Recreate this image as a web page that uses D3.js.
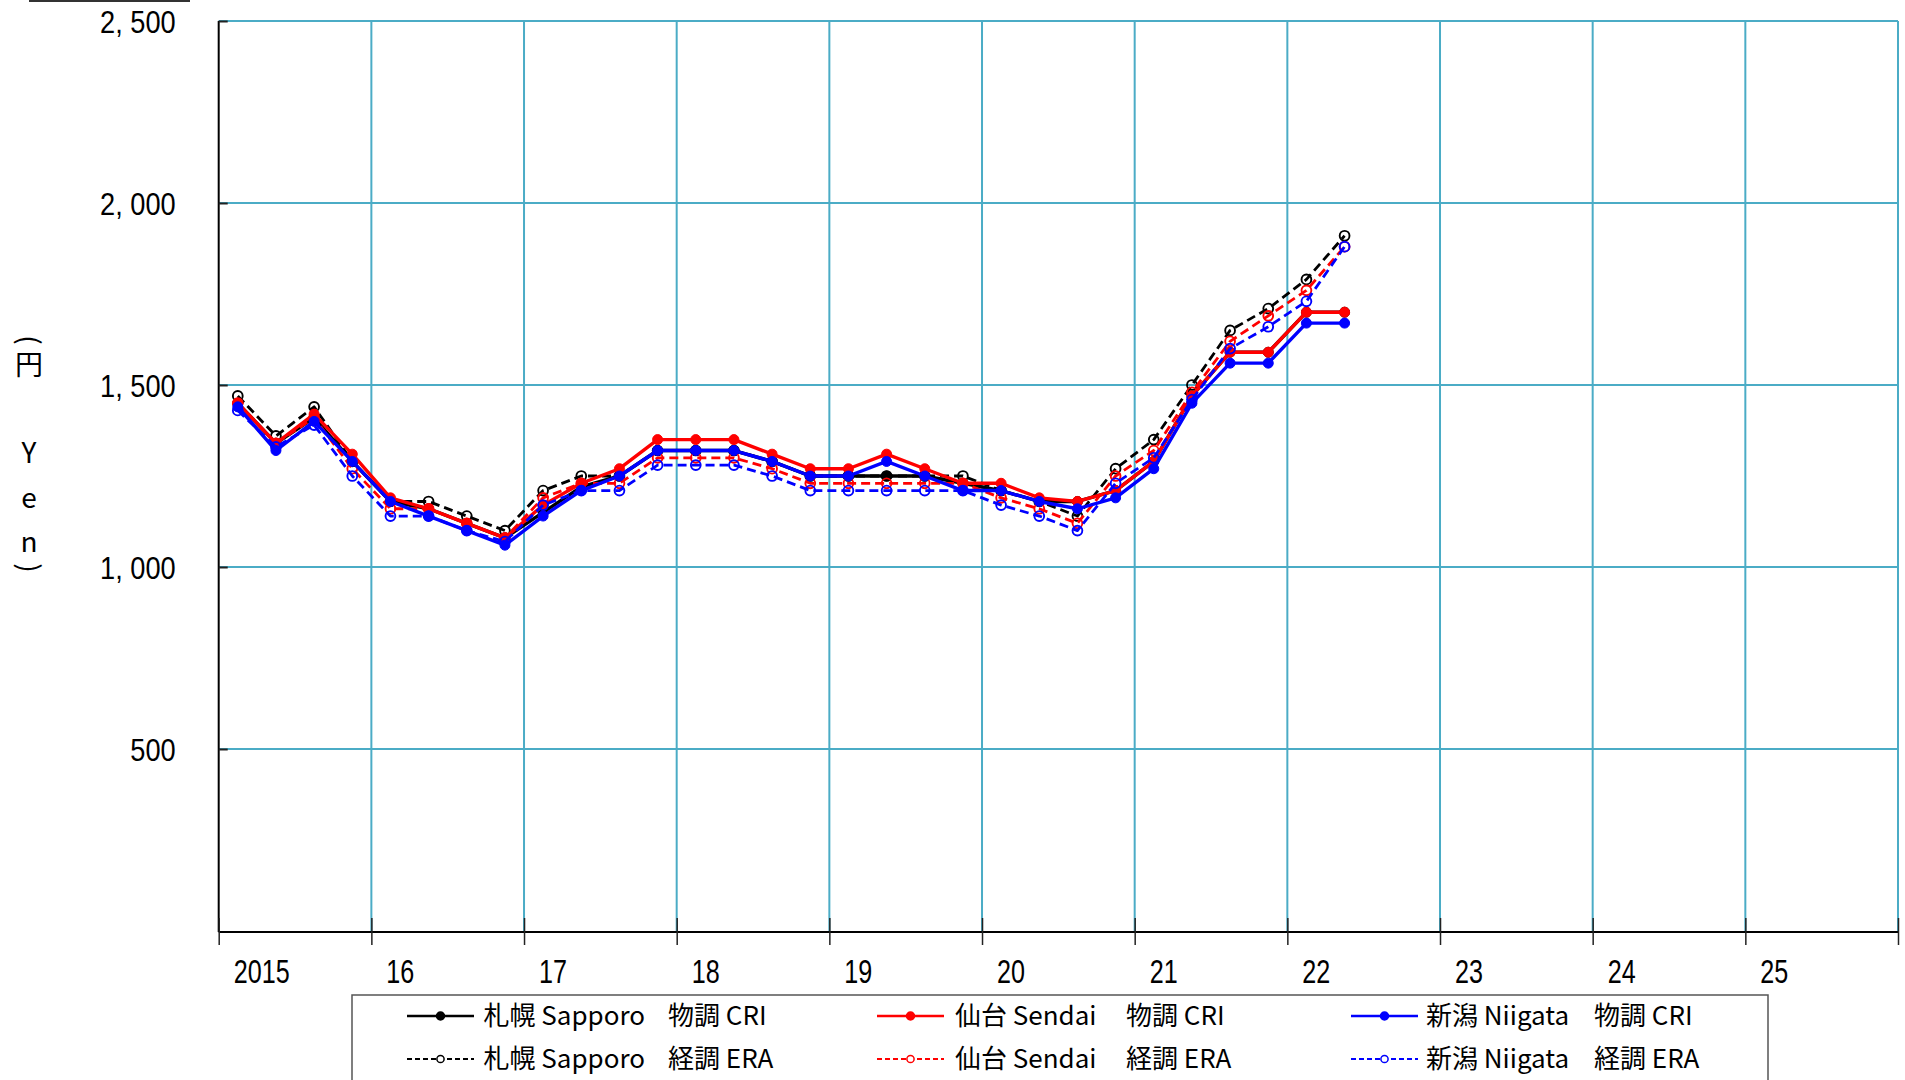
<!DOCTYPE html>
<html>
<head>
<meta charset="utf-8">
<script src="https://cdn.jsdelivr.net/npm/d3@7"></script>
<style>
  html, body { margin: 0; padding: 0; background: #fff; }
  svg { display: block; }
</style>
</head>
<body>
<svg id="chart" width="1905" height="1080"></svg>
<script>
// quarters shown (year, quarter)
const quarters = [
  [2015, 1], [2015, 2], [2015, 3], [2015, 4],
  [2016, 1], [2016, 2], [2016, 3], [2016, 4],
  [2017, 1], [2017, 2], [2017, 3], [2017, 4],
  [2018, 1], [2018, 2], [2018, 3], [2018, 4],
  [2019, 1], [2019, 2], [2019, 3], [2019, 4],
  [2020, 1], [2020, 2], [2020, 3], [2020, 4],
  [2021, 1], [2021, 2], [2021, 3], [2021, 4],
  [2022, 1], [2022, 2]
];

const sapporoCRI = [1450, 1340, 1410, 1290, 1180, 1160, 1120, 1080, 1150, 1220, 1250, 1320, 1320, 1320, 1290, 1250,
  1250, 1250, 1250, 1230, 1210, 1180, 1180, 1210, 1290, 1470, 1590, 1590, 1700, 1700];
const sapporoERA = [1470, 1360, 1440, 1290, 1180, 1180, 1140, 1100, 1210, 1250, 1250, 1320, 1320, 1320, 1290, 1250,
  1250, 1250, 1250, 1250, 1210, 1180, 1140, 1270, 1350, 1500, 1650, 1710, 1790, 1910];
const sendaiCRI = [1450, 1340, 1420, 1310, 1190, 1160, 1120, 1080, 1170, 1230, 1270, 1350, 1350, 1350, 1310, 1270,
  1270, 1310, 1270, 1230, 1230, 1190, 1180, 1210, 1290, 1470, 1590, 1590, 1700, 1700];
const sendaiERA = [1450, 1340, 1410, 1270, 1160, 1160, 1120, 1080, 1190, 1230, 1230, 1300, 1300, 1300, 1270, 1230,
  1230, 1230, 1230, 1230, 1190, 1160, 1120, 1250, 1320, 1480, 1620, 1690, 1760, 1880];
const niigataCRI = [1440, 1320, 1400, 1290, 1180, 1140, 1100, 1060, 1140, 1210, 1250, 1320, 1320, 1320, 1290, 1250,
  1250, 1290, 1250, 1210, 1210, 1180, 1160, 1190, 1270, 1450, 1560, 1560, 1670, 1670];
const niigataERA = [1430, 1330, 1390, 1250, 1140, 1140, 1100, 1070, 1170, 1210, 1210, 1280, 1280, 1280, 1250, 1210,
  1210, 1210, 1210, 1210, 1170, 1140, 1100, 1230, 1300, 1460, 1600, 1660, 1730, 1880];

const yTicks = [500, 1000, 1500, 2000, 2500];
const years = [2015, 2016, 2017, 2018, 2019, 2020, 2021, 2022, 2023, 2024, 2025, 2026];
const yearLabels = ["2015", "16", "17", "18", "19", "20", "21", "22", "23", "24", "25", ""];

const series = [
  { name: "札幌 Sapporo", kind: "物調 CRI", color: "#000000", dashed: false, values: sapporoCRI },
  { name: "札幌 Sapporo", kind: "経調 ERA", color: "#000000", dashed: true, values: sapporoERA },
  { name: "仙台 Sendai", kind: "物調 CRI", color: "#ff0000", dashed: false, values: sendaiCRI },
  { name: "仙台 Sendai", kind: "経調 ERA", color: "#ff0000", dashed: true, values: sendaiERA },
  { name: "新潟 Niigata", kind: "物調 CRI", color: "#0000ff", dashed: false, values: niigataCRI },
  { name: "新潟 Niigata", kind: "経調 ERA", color: "#0000ff", dashed: true, values: niigataERA }
];

const plot = { left: 218.7, right: 1898, top: 21, bottom: 931 };
const gridColor = "#4bacc6";
const jpFont = "'Noto Sans CJK JP', 'Noto Sans', sans-serif";
const numFont = "'Liberation Sans', Arial, sans-serif";

const svg = d3.select("#chart");

const x = d3.scaleLinear().domain([2015, 2026]).range([plot.left, plot.right]);
const y = d3.scaleLinear().domain([0, 2500]).range([plot.bottom, plot.top]);
const qx = (q) => x(q[0] + (q[1] - 0.5) / 4);

// decorative rule at top-left (cut-off title underline)
svg.append("line")
    .attr("x1", 29).attr("x2", 190).attr("y1", 1).attr("y2", 1)
    .attr("stroke", "#333").attr("stroke-width", 2);

// gridlines
svg.append("g")
    .selectAll("line")
    .data(yTicks)
    .join("line")
    .attr("x1", plot.left).attr("x2", plot.right)
    .attr("y1", (d) => y(d)).attr("y2", (d) => y(d))
    .attr("stroke", gridColor).attr("stroke-width", 2);

svg.append("g")
    .selectAll("line")
    .data(years.slice(1))
    .join("line")
    .attr("x1", (d) => x(d)).attr("x2", (d) => x(d))
    .attr("y1", plot.top).attr("y2", plot.bottom)
    .attr("stroke", gridColor).attr("stroke-width", 2);

// y axis
const yAxis = svg.append("g")
    .attr("transform", `translate(${plot.left},0)`)
    .call(d3.axisLeft(y).tickValues(yTicks).tickSizeInner(-9).tickSizeOuter(0)
        .tickFormat((d) => d3.format(",")(d).replace(",", ", ")));
yAxis.select(".domain").attr("stroke", "#000").attr("stroke-width", 2)
    .attr("d", `M0,${plot.top}V${plot.bottom + 1}`);
yAxis.selectAll(".tick line").attr("stroke", "#222").attr("stroke-width", 2);
yAxis.selectAll(".tick text")
    .attr("x", null)
    .attr("dy", "0.35em")
    .attr("transform", "translate(-43,0) scale(0.85,1)")
    .attr("font-family", numFont)
    .attr("font-size", 32)
    .attr("fill", "#000");

// x axis
const xAxis = svg.append("g")
    .attr("transform", `translate(0,${plot.bottom + 1})`)
    .call(d3.axisBottom(x).tickValues(years).tickSizeInner(13).tickSizeOuter(0)
        .tickFormat((d, i) => yearLabels[i]));
xAxis.select(".domain").attr("stroke", "#000").attr("stroke-width", 2)
    .attr("d", `M${plot.left},0H${plot.right}`);
xAxis.selectAll(".tick line").attr("stroke", "#222").attr("stroke-width", 1.5).attr("y1", -14);
xAxis.selectAll(".tick text")
    .attr("y", null)
    .attr("dy", "0.35em")
    .attr("text-anchor", "start")
    .attr("transform", "translate(14.5,39) scale(0.74,1)")
    .attr("font-family", numFont)
    .attr("font-size", 34)
    .attr("fill", "#000");

// y axis title (vertical)
const titleChars = [
  { t: "(", y: 340, rot: 90 }, { t: "円", y: 365, rot: 0 }, { t: "Y", y: 453, rot: 0 },
  { t: "e", y: 498, rot: 0 }, { t: "n", y: 542, rot: 0 }, { t: ")", y: 568, rot: 90 }
];
svg.append("g")
    .selectAll("text")
    .data(titleChars)
    .join("text")
    .attr("transform", (d) => `translate(29,${d.y}) rotate(${d.rot})`)
    .attr("dy", "0.35em")
    .attr("text-anchor", "middle")
    .attr("font-family", jpFont)
    .attr("font-size", 28)
    .text((d) => d.t);

// series
const line = d3.line().x((d, i) => qx(quarters[i])).y((d) => y(d));

const sg = svg.append("g")
    .selectAll("g")
    .data(series)
    .join("g");

sg.append("path")
    .attr("d", (d) => line(d.values))
    .attr("fill", "none")
    .attr("stroke", (d) => d.color)
    .attr("stroke-width", (d) => (d.dashed ? 2.8 : 3.4))
    .attr("stroke-dasharray", (d) => (d.dashed ? "9,5" : null))
    .attr("stroke-linejoin", "round");

sg.each(function (s) {
    d3.select(this)
        .selectAll("circle")
        .data(s.values)
        .join("circle")
        .attr("cx", (d, i) => qx(quarters[i]))
        .attr("cy", (d) => y(d))
        .attr("r", s.dashed ? 4.9 : 5)
        .attr("fill", s.dashed ? "none" : s.color)
        .attr("stroke", s.color)
        .attr("stroke-width", s.dashed ? 1.9 : 1);
});

// legend
const legendBox = { x: 352, y: 995, w: 1416, h: 110 };
const legendCols = [
  { lineX: 407, textX: 483.5, kindX: 668 },
  { lineX: 877, textX: 955, kindX: 1126 },
  { lineX: 1351, textX: 1426, kindX: 1594 }
];
const legendRows = [1016, 1059];

svg.append("rect")
    .attr("x", legendBox.x).attr("y", legendBox.y)
    .attr("width", legendBox.w).attr("height", legendBox.h)
    .attr("fill", "#fff").attr("stroke", "#555").attr("stroke-width", 1.5);

const lg = svg.append("g")
    .selectAll("g")
    .data(series)
    .join("g")
    .attr("transform", (d, i) => `translate(0,${legendRows[i % 2]})`);

lg.append("line")
    .attr("x1", (d, i) => legendCols[Math.floor(i / 2)].lineX)
    .attr("x2", (d, i) => legendCols[Math.floor(i / 2)].lineX + 67)
    .attr("stroke", (d) => d.color)
    .attr("stroke-width", (d) => (d.dashed ? 2 : 2.5))
    .attr("stroke-dasharray", (d) => (d.dashed ? "5,3" : null));

lg.append("circle")
    .attr("cx", (d, i) => legendCols[Math.floor(i / 2)].lineX + 33.5)
    .attr("r", (d) => (d.dashed ? 3.6 : 4))
    .attr("fill", (d) => (d.dashed ? "#fff" : d.color))
    .attr("stroke", (d) => d.color)
    .attr("stroke-width", 1.5);

const lt = lg.append("text")
    .attr("dy", "0.35em")
    .attr("font-family", jpFont)
    .attr("font-size", 26)
    .attr("fill", "#000");
lt.append("tspan")
    .attr("x", (d, i) => legendCols[Math.floor(i / 2)].textX)
    .text((d) => d.name);
lt.append("tspan")
    .attr("x", (d, i) => legendCols[Math.floor(i / 2)].kindX)
    .text((d) => d.kind);
</script>
</body>
</html>
